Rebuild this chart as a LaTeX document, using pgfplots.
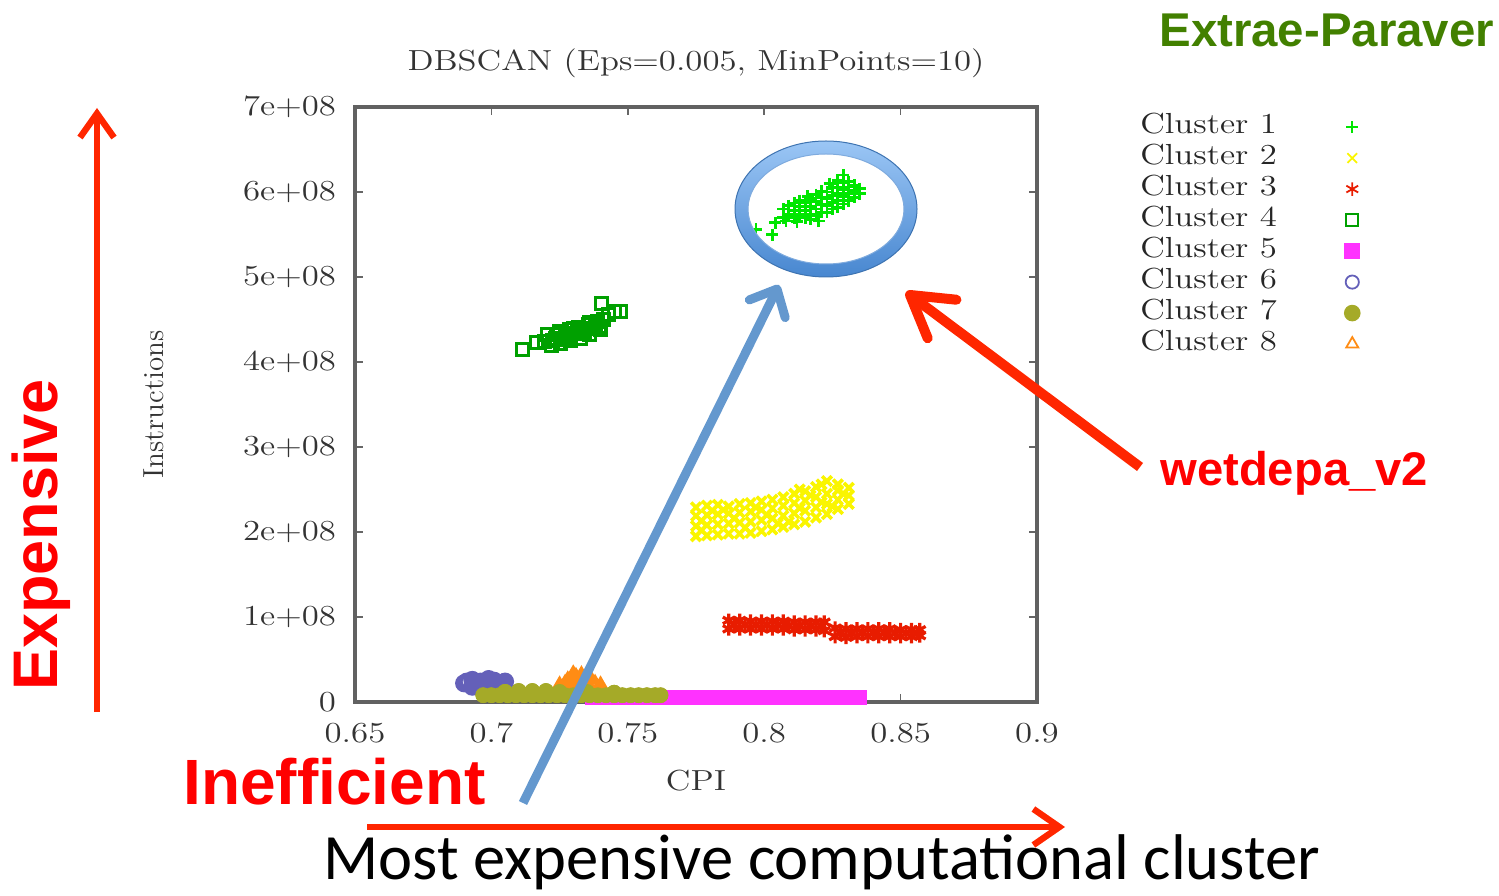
\documentclass[border=0pt]{standalone}
\usepackage{graphicx}
\usepackage{pgfplots}
\pgfplotsset{compat=1.18}
\usepackage{fontspec}
\usetikzlibrary{arrows.meta}
\newfontfamily\lsans{Liberation Sans}
\newfontfamily\calibri{Carlito}
\newcommand{\gp}[1]{\scalebox{1.2}[1]{#1}}
\definecolor{c1}{RGB}{0,230,0}
\definecolor{c2}{RGB}{250,245,0}
\definecolor{c3}{RGB}{232,28,0}
\definecolor{c4}{RGB}{0,160,0}
\definecolor{c5}{RGB}{255,50,255}
\definecolor{c6}{RGB}{100,96,185}
\definecolor{c7}{RGB}{165,170,40}
\definecolor{c8}{RGB}{255,140,20}
\definecolor{arrred}{RGB}{255,38,0}
\definecolor{txtred}{RGB}{255,0,0}
\definecolor{arrblue}{RGB}{100,152,206}
\definecolor{ellLight}{RGB}{155,198,245}
\definecolor{ellDark}{RGB}{72,135,208}
\definecolor{xgreen}{RGB}{66,128,0}
\begin{document}
\begin{tikzpicture}
\path[use as bounding box] (0pt,0pt) rectangle (749.5pt,447.5pt);
\begin{axis}[
  at={(177.5pt,96.5pt)}, anchor=south west,
  scale only axis, width=341pt, height=297.5pt,
  xmin=0.65, xmax=0.9, ymin=0, ymax=7,
  xtick={0.65,0.7,0.75,0.8,0.85,0.9},
  xticklabels={\gp{0.65},\gp{0.7},\gp{0.75},\gp{0.8},\gp{0.85},\gp{0.9}},
  ytick={0,1,2,3,4,5,6,7},
  yticklabels={\gp{0},\gp{1e+08},\gp{2e+08},\gp{3e+08},\gp{4e+08},\gp{5e+08},\gp{6e+08},\gp{7e+08}},
  tick align=inside,
  major tick length=4pt,
  axis line style={draw=black!62, line width=1.6pt},
  every tick/.style={black!60, line width=0.8pt},
  tick label style={font=\fontsize{14.5}{17}\selectfont, text=black!80},
  xticklabel style={yshift=-7pt},
  yticklabel style={xshift=-6pt},
  title={\gp{DBSCAN (Eps=0.005, MinPoints=10)}},
  title style={font=\fontsize{14.5}{17}\selectfont, text=black!80, at={(axis description cs:0.5,1.054)}, anchor=center},
  xlabel={\gp{CPI}},
  xlabel style={font=\fontsize{14.5}{17}\selectfont, text=black!80, at={(axis description cs:0.5,-0.1328)}, anchor=center},
  ylabel={Instructions},
  ylabel style={font=\fontsize{14.5}{17}\selectfont, text=black!80, at={(axis description cs:-0.2947,0.5)}, anchor=center},
  legend style={at={(axis description cs:1.151,0.993)}, anchor=north west, draw=none, fill=none, inner sep=0pt, row sep=0pt, column sep=0pt,
    font=\fontsize{14.5}{17}\selectfont, text=black!85,
    nodes={inner sep=0pt, text height=11pt, text depth=4.5pt}},
  legend cell align=left,
  legend plot pos=right,
  legend image code/.code={\path (0pt,0pt); \draw[#1, line width=0.9pt] plot coordinates {(36.5pt,0pt)};},
]
% Cluster 1
\addplot[only marks, mark=+, mark size=3pt, c1, line width=1.4pt] coordinates {
(0.807,5.70)(0.807,5.80)(0.809,5.74)(0.809,5.84)(0.808,5.66)
(0.811,5.70)(0.811,5.78)(0.811,5.87)(0.813,5.74)(0.813,5.83)(0.813,5.90)
(0.815,5.70)(0.815,5.78)(0.815,5.87)(0.817,5.68)(0.817,5.74)(0.817,5.83)(0.817,5.92)
(0.819,5.72)(0.819,5.80)(0.819,5.89)(0.819,5.97)(0.821,5.76)(0.821,5.85)(0.821,5.94)(0.821,6.01)
(0.823,5.76)(0.823,5.84)(0.823,5.92)(0.823,6.00)(0.825,5.80)(0.825,5.88)(0.825,5.96)(0.825,6.05)
(0.827,5.82)(0.827,5.90)(0.827,5.98)(0.827,6.06)(0.827,6.14)
(0.829,5.86)(0.829,5.95)(0.829,6.03)(0.829,6.11)(0.829,6.20)
(0.831,5.90)(0.831,5.98)(0.831,6.06)(0.831,6.12)(0.833,5.94)(0.833,6.02)(0.833,6.08)
(0.835,5.98)(0.835,6.04)(0.812,5.65)(0.816,5.95)(0.820,5.66)(0.824,6.10)
(0.797,5.56)(0.803,5.50)(0.804,5.64)
};
\addlegendentry{\gp{Cluster 1}}
% Cluster 2
\addplot[only marks, mark=x, mark size=3.4pt, c2, line width=1.8pt] coordinates {
(0.775,1.95)(0.775,2.07)(0.775,2.19)(0.775,2.29)
(0.779,1.96)(0.779,2.08)(0.779,2.20)(0.779,2.31)
(0.783,1.97)(0.783,2.09)(0.783,2.21)(0.783,2.32)
(0.787,1.98)(0.787,2.10)(0.787,2.22)(0.787,2.30)
(0.791,1.98)(0.791,2.11)(0.791,2.23)(0.791,2.33)
(0.795,1.99)(0.795,2.12)(0.795,2.24)(0.795,2.34)
(0.799,2.01)(0.799,2.14)(0.799,2.26)(0.799,2.36)
(0.803,2.03)(0.803,2.16)(0.803,2.28)(0.803,2.38)
(0.807,2.06)(0.807,2.19)(0.807,2.31)(0.807,2.41)
(0.811,2.09)(0.811,2.22)(0.811,2.34)(0.811,2.45)
(0.815,2.12)(0.815,2.25)(0.815,2.37)(0.815,2.48)
(0.819,2.17)(0.819,2.29)(0.819,2.41)(0.819,2.53)
(0.823,2.21)(0.823,2.33)(0.823,2.45)(0.823,2.60)
(0.827,2.27)(0.827,2.38)(0.827,2.49)(0.827,2.56)
(0.831,2.33)(0.831,2.43)(0.831,2.52)
(0.777,2.02)(0.785,2.26)(0.793,2.05)(0.801,2.20)(0.809,2.12)(0.817,2.43)(0.825,2.30)(0.813,2.50)(0.821,2.56)
(0.777,2.13)(0.781,2.25)(0.789,2.16)(0.797,2.29)(0.805,2.10)(0.813,2.28)(0.821,2.35)(0.829,2.45)
};
\addlegendentry{\gp{Cluster 2}}
% Cluster 3
\addplot[only marks, mark=asterisk, mark size=3.4pt, c3, line width=1.6pt] coordinates {
(0.787,0.86)(0.787,0.96)(0.791,0.86)(0.791,0.96)(0.795,0.86)(0.795,0.95)(0.799,0.86)(0.799,0.95)
(0.803,0.86)(0.803,0.95)(0.807,0.86)(0.807,0.95)(0.811,0.85)(0.811,0.94)(0.815,0.85)(0.815,0.94)
(0.819,0.85)(0.819,0.94)(0.822,0.84)(0.822,0.94)
(0.826,0.77)(0.826,0.87)(0.830,0.76)(0.830,0.86)(0.834,0.77)(0.834,0.86)(0.838,0.77)(0.838,0.86)
(0.842,0.77)(0.842,0.86)(0.846,0.77)(0.846,0.86)(0.850,0.77)(0.850,0.85)(0.854,0.77)(0.854,0.85)
(0.857,0.78)(0.857,0.85)
(0.789,0.91)(0.793,0.91)(0.797,0.91)(0.801,0.91)(0.805,0.91)(0.809,0.90)(0.813,0.90)(0.817,0.90)(0.821,0.90)
(0.828,0.82)(0.832,0.81)(0.836,0.82)(0.840,0.82)(0.844,0.82)(0.848,0.81)(0.852,0.81)(0.856,0.81)
};
\addlegendentry{\gp{Cluster 3}}
% Cluster 4
\addplot[only marks, mark=square, mark size=3pt, c4, line width=1.5pt] coordinates {
(0.7115,4.15)(0.7165,4.23)(0.7195,4.24)(0.7205,4.32)(0.7220,4.20)(0.7225,4.25)(0.7235,4.28)(0.7250,4.36)
(0.7255,4.22)(0.7265,4.26)(0.7270,4.30)(0.7285,4.38)(0.7290,4.25)(0.7305,4.33)(0.7315,4.36)(0.7320,4.41)
(0.7325,4.28)(0.7340,4.36)(0.7345,4.40)(0.7355,4.44)(0.7360,4.32)(0.7375,4.40)(0.7380,4.44)(0.7390,4.48)
(0.7400,4.38)(0.7410,4.50)(0.7405,4.69)(0.7430,4.56)(0.7450,4.60)(0.7475,4.60)
(0.7240,4.32)(0.7280,4.29)(0.7300,4.40)(0.7330,4.33)(0.7360,4.46)(0.7395,4.42)
};
\addlegendentry{\gp{Cluster 4}}
% Cluster 5
\addplot[only marks, mark=square*, mark size=3.5pt, c5] coordinates {
(0.737,0.05)(0.740,0.05)(0.743,0.05)(0.746,0.05)(0.749,0.05)(0.752,0.05)(0.755,0.05)(0.758,0.05)
(0.761,0.05)(0.764,0.05)(0.767,0.05)(0.770,0.05)(0.773,0.05)(0.776,0.05)(0.779,0.05)(0.782,0.05)
(0.785,0.05)(0.788,0.05)(0.791,0.05)(0.794,0.05)(0.797,0.05)(0.800,0.05)(0.803,0.05)(0.806,0.05)
(0.809,0.05)(0.812,0.05)(0.815,0.05)(0.818,0.05)(0.821,0.05)(0.824,0.05)(0.827,0.05)(0.830,0.05)
(0.833,0.05)(0.835,0.05)
};
\addlegendentry{\gp{Cluster 5}}
% Cluster 6
\addplot[only marks, mark=o, mark size=3.3pt, c6, line width=2.4pt] coordinates {
(0.690,0.22)(0.693,0.26)(0.693,0.18)(0.696,0.24)(0.696,0.21)(0.699,0.27)(0.699,0.19)
(0.702,0.23)(0.703,0.20)(0.705,0.24)(0.691,0.24)(0.698,0.23)(0.694,0.22)(0.701,0.25)(0.704,0.22)
};
\addlegendentry{\gp{Cluster 6}}
% Cluster 7
\addplot[only marks, mark=*, mark size=3.7pt, c7] coordinates {
(0.697,0.08)(0.700,0.08)(0.703,0.08)(0.706,0.08)(0.709,0.08)(0.712,0.08)(0.715,0.08)(0.718,0.08)
(0.721,0.08)(0.724,0.08)(0.727,0.08)(0.730,0.08)(0.733,0.08)(0.736,0.08)(0.739,0.08)(0.742,0.08)
(0.745,0.08)(0.748,0.08)(0.751,0.08)(0.754,0.08)(0.757,0.08)(0.760,0.08)(0.762,0.08)
(0.705,0.12)(0.710,0.13)(0.715,0.13)(0.720,0.13)(0.725,0.12)(0.735,0.12)(0.745,0.11)
};
\addlegendentry{\gp{Cluster 7}}
% Cluster 8
\addplot[only marks, mark=triangle, mark size=3.5pt, c8, line width=2.2pt] coordinates {
(0.725,0.18)(0.728,0.24)(0.731,0.28)(0.734,0.26)(0.737,0.22)(0.740,0.18)(0.729,0.18)(0.735,0.18)
(0.732,0.22)(0.730,0.31)(0.733,0.30)(0.727,0.20)(0.738,0.20)
};
\addlegendentry{\gp{Cluster 8}}
% Cluster 7 redrawn on top of clusters 5 and 8
\addplot[only marks, mark=*, mark size=3.7pt, c7, forget plot] coordinates {
(0.697,0.08)(0.700,0.08)(0.703,0.08)(0.706,0.08)(0.709,0.08)(0.712,0.08)(0.715,0.08)(0.718,0.08)
(0.721,0.08)(0.724,0.08)(0.727,0.08)(0.730,0.08)(0.733,0.08)(0.736,0.08)(0.739,0.08)(0.742,0.08)
(0.745,0.08)(0.748,0.08)(0.751,0.08)(0.754,0.08)(0.757,0.08)(0.760,0.08)(0.762,0.08)
(0.705,0.12)(0.710,0.13)(0.715,0.13)(0.720,0.13)(0.725,0.12)(0.735,0.12)(0.745,0.11)
};
\end{axis}
\begin{scope}[x=0.5pt, y=-0.5pt, shift={(0pt,447.5pt)}]
  % highlight ellipse
  \shade[top color=ellLight, bottom color=ellDark, even odd rule]
    (826,209) ellipse [x radius=45.5pt, y radius=34pt]
    (826,209) ellipse [x radius=39pt, y radius=27.5pt];
  \draw[ellDark!85!black, line width=0.5pt] (826,209) ellipse [x radius=45.5pt, y radius=34pt];
  \draw[ellDark!70, line width=0.5pt] (826,209) ellipse [x radius=39pt, y radius=27.5pt];
  % arrows
  \draw[arrblue, line width=4.5pt, -{Straight Barb[length=11pt, width=20pt, round]}] (523,803) -- (779,285);
  \draw[arrred, line width=5pt, -{Straight Barb[length=20pt, width=24pt, round]}] (1140,467) -- (906,292);
  \draw[arrred, line width=3.2pt, -{Straight Barb[length=12pt, width=17pt]}] (97,712) -- (97,108);
  \draw[arrred, line width=3.2pt, -{Straight Barb[length=13pt, width=18pt]}] (367,827) -- (1065,827);
  % texts
  \node[anchor=base west, inner sep=0pt, font=\lsans\bfseries\fontsize{23.7}{28}\selectfont, text=xgreen] at (1159,47) {Extrae-Paraver};
  \node[anchor=base, rotate=90, inner sep=0pt, font=\lsans\bfseries\fontsize{31.5}{36}\selectfont, text=txtred] at (57,535) {Expensive};
  \node[anchor=base west, inner sep=0pt, font=\lsans\bfseries\fontsize{32}{38}\selectfont, text=txtred] at (183,804) {Inefficient};
  \node[anchor=base west, inner sep=0pt, font=\lsans\bfseries\fontsize{23.6}{28}\selectfont, text=txtred] at (1160,486) {wetdepa\_v2};
  \node[anchor=base west, inner sep=0pt, font=\calibri\fontsize{32.3}{36}\selectfont, text=black] at (323,879) {Most expensive computational cluster};
\end{scope}
\end{tikzpicture}
\end{document}
